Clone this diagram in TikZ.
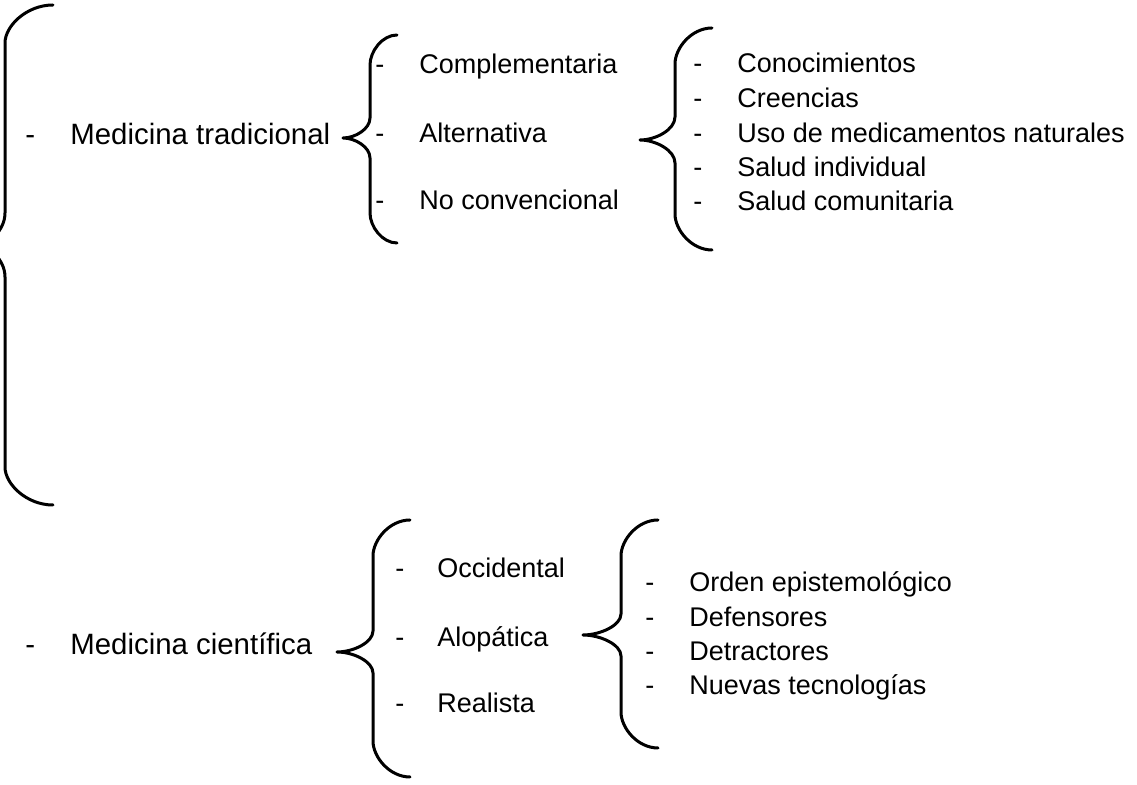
\documentclass[tikz,border=0pt]{standalone}
\usepackage{fontspec}
\setmainfont{Liberation Sans}

\tikzset{
  titulo/.style={anchor=base west, inner sep=0pt, font=\fontsize{14.7}{17}\selectfont},
  item/.style={anchor=base west, inner sep=0pt, font=\fontsize{13.5}{16}\selectfont},
  llave/.style={line width=1.5pt, line join=round, line cap=round}
}

% llave: end x, spine x, tip x, top y, tip y, bottom y, corner, tip curve
\newcommand{\llave}[8]{%
  \draw[llave] (#1,#4) .. controls ({#1-0.55*(#1-(#2))},#4) and (#2,{#4+0.55*#7}) .. (#2,{#4+#7})
    -- (#2,{#5-#8}) .. controls (#2,{#5-0.45*#8}) and ({#2-0.55*(#2-(#3))},#5) .. (#3,#5)
    .. controls ({#2-0.55*(#2-(#3))},#5) and (#2,{#5+0.45*#8}) .. (#2,{#5+#8})
    -- (#2,{#6-#7}) .. controls (#2,{#6-0.55*#7}) and ({#1-0.55*(#1-(#2))},#6) .. (#1,#6);}

\begin{document}
\begin{tikzpicture}[x=0.5pt,y=-0.5pt]
\clip (0,0) rectangle (1137,785);

\llave{53}{5}{-25}{5}{245}{505}{38}{32}
\llave{397}{370}{343}{35}{138}{243}{30}{20}
\llave{712}{675}{640}{28}{140}{250}{36}{23}
\llave{410}{373}{337}{520}{652}{777}{36}{21}
\llave{658}{621}{583}{520}{635}{748}{36}{21}

\node[titulo] (trad-d) at (25,145) {-};
\node[titulo] (trad) at (70,145) {Medicina tradicional};
\node[titulo] (cien-d) at (25,655) {-};
\node[titulo] (cien) at (70,655) {Medicina científica};

\node[item] (comp-d) at (375,74) {-};
\node[item] (comp) at (419,74) {Complementaria};
\node[item] (alt-d) at (375,143) {-};
\node[item] (alt) at (419,143) {Alternativa};
\node[item] (noconv-d) at (375,210) {-};
\node[item] (noconv) at (419,210) {No convencional};

\node[item] (cono-d) at (693,73) {-};
\node[item] (cono) at (737,73) {Conocimientos};
\node[item] (cree-d) at (693,108) {-};
\node[item] (cree) at (737,108) {Creencias};
\node[item] (uso-d) at (693,143) {-};
\node[item] (uso) at (737,143) {Uso de medicamentos naturales};
\node[item] (indiv-d) at (693,177) {-};
\node[item] (indiv) at (737,177) {Salud individual};
\node[item] (comun-d) at (693,211) {-};
\node[item] (comun) at (737,211) {Salud comunitaria};

\node[item] (occ-d) at (395,578) {-};
\node[item] (occ) at (437,578) {Occidental};
\node[item] (alop-d) at (395,647) {-};
\node[item] (alop) at (437,647) {Alopática};
\node[item] (real-d) at (395,713) {-};
\node[item] (real) at (437,713) {Realista};

\node[item] (orden-d) at (645,592) {-};
\node[item] (orden) at (689,592) {Orden epistemológico};
\node[item] (defen-d) at (645,627) {-};
\node[item] (defen) at (689,627) {Defensores};
\node[item] (detra-d) at (645,661) {-};
\node[item] (detra) at (689,661) {Detractores};
\node[item] (nuevas-d) at (645,695) {-};
\node[item] (nuevas) at (689,695) {Nuevas tecnologías};
\end{tikzpicture}
\end{document}
